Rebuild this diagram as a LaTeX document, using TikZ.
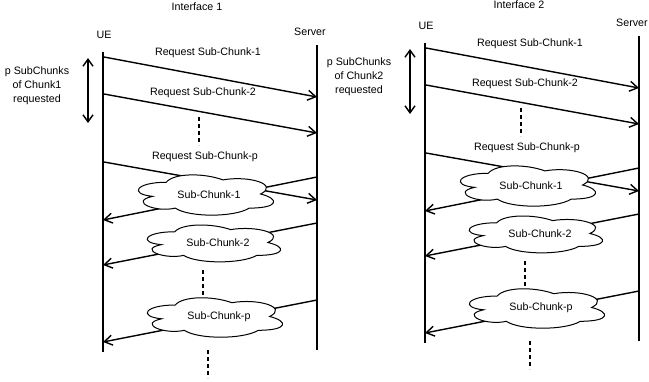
\documentclass[tikz,border=0pt]{standalone}
\usepackage{fontspec}
\setmainfont{Liberation Sans}
\usepackage{tikz}
\usetikzlibrary{arrows.meta}

\begin{document}
\begin{tikzpicture}[x=1pt, y=-1pt,
	font=\fontsize{10.7}{14}\selectfont,
	life/.style={line width=1.7pt},
	msg/.style={line width=1.4pt, -{Straight Barb[length=8pt,width=10pt]}},
	span/.style={line width=1.4pt, {Straight Barb[length=7pt,width=10pt]}-{Straight Barb[length=7pt,width=10pt]}},
	chunkcloud/.pic={
		\draw[line width=1pt, fill=white] (-0.25,-0.25)
			.. controls (-0.45,-0.25) and (-0.5,0) .. (-0.34,0.05)
			.. controls (-0.5,0.16) and (-0.32,0.4) .. (-0.19,0.3)
			.. controls (-0.1,0.5) and (0.2,0.5) .. (0.3,0.3)
			.. controls (0.5,0.3) and (0.5,0.1) .. (0.375,0)
			.. controls (0.5,-0.2) and (0.3,-0.4) .. (0.125,-0.3)
			.. controls (0,-0.45) and (-0.2,-0.45) .. (-0.25,-0.25) -- cycle;
	},
	gapdash/.style={line width=1.4pt, dash pattern=on 4pt off 3pt}]
\useasboundingbox (0,0) rectangle (649,381);

\foreach \p/\dx/\dy/\ty in {1/0/0/7, 2/322/-9/14} {
\begin{scope}[shift={(\dx,\dy)}]
% labels on top
	\node (if\p) at (197,\ty) {Interface \p};
	\node (ue\p) at (104,35) {UE};
	\node (srv\p) at (310,32) {Server};

% draw lifelines
	\coordinate (uet\p) at (103,52);
	\coordinate (ueb\p) at (103,352);
	\coordinate (srvt\p) at (317,45);
	\coordinate (srvb\p) at (317,350);
	\draw[life] (uet\p) -- (ueb\p);
	\draw[life] (srvt\p) -- (srvb\p);

% requests UE -> server
	\foreach \m/\ya/\yb in {q1/57/97, q2/94/133, qp/162/200} {
		\coordinate (\m a\p) at (104,\ya);
		\coordinate (\m b\p) at (317,\yb);
		\draw[msg] (\m a\p) -- (\m b\p);
	}
	\node (lq1\p) at (208,53) {Request Sub-Chunk-1};
	\node (lq2\p) at (203,93) {Request Sub-Chunk-2};
	\node (lqp\p) at (205,157) {Request Sub-Chunk-p};

% sub-chunks server -> UE
	\foreach \m/\ya/\yb in {s1/177/220, s2/223/265, sp/300/342} {
		\coordinate (\m a\p) at (317,\ya);
		\coordinate (\m b\p) at (103,\yb);
		\draw[msg] (\m a\p) -- (\m b\p);
	}
	\pic[xscale=151, yscale=47] at (204,194) {chunkcloud};
	\pic[xscale=149, yscale=43] at (212,242.5) {chunkcloud};
	\pic[xscale=151, yscale=46] at (213,316.5) {chunkcloud};
	\node (c1\p) at (209,195) {Sub-Chunk-1};
	\node (c2\p) at (218,243) {Sub-Chunk-2};
	\node (cp\p) at (219,317) {Sub-Chunk-p};

% dashed gaps
	\coordinate (g1a\p) at (199,117);
	\coordinate (g1b\p) at (199,145);
	\coordinate (g2a\p) at (203,270);
	\coordinate (g2b\p) at (203,297);
	\coordinate (g3a\p) at (208,350);
	\coordinate (g3b\p) at (208,378);
	\draw[gapdash] (g1a\p) -- (g1b\p);
	\draw[gapdash] (g2a\p) -- (g2b\p);
	\draw[gapdash] (g3a\p) -- (g3b\p);

% requested range
	\coordinate (ra\p) at (88,58);
	\coordinate (rb\p) at (88,123);
	\draw[span] (ra\p) -- (rb\p);
	\node[align=center] (note\p) at (37,86) {p SubChunks\\of Chunk\p\\requested};
\end{scope}
}
\end{tikzpicture}
\end{document}
